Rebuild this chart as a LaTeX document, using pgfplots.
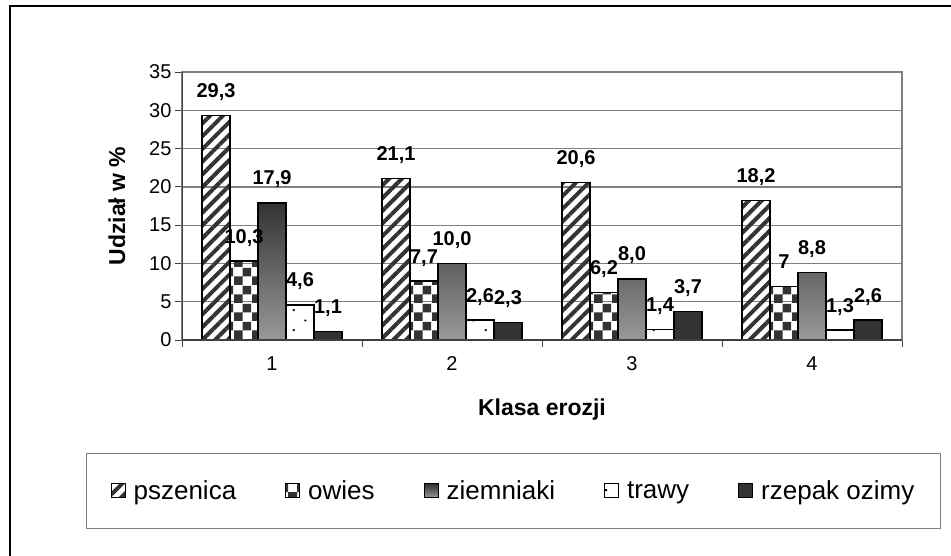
\documentclass[border=0pt]{standalone}
\usepackage{fontspec}
\setmainfont{Liberation Sans}
\usepackage{pgfplots}
\pgfplotsset{compat=1.18}
\usetikzlibrary{patterns,patterns.meta}

\definecolor{bardark}{HTML}{333333}
\definecolor{gridgray}{HTML}{808080}
\definecolor{axisdark}{HTML}{404040}

% large checkerboard for "owies"
\pgfdeclarepatternformonly{bigcheck}{\pgfpointorigin}{\pgfpoint{18pt}{18pt}}{\pgfpoint{18pt}{18pt}}{%
  \pgfpathrectangle{\pgfpointorigin}{\pgfpoint{9pt}{9pt}}%
  \pgfpathrectangle{\pgfpoint{9pt}{9pt}}{\pgfpoint{9pt}{9pt}}%
  \pgfusepath{fill}}
% sparse dots for "trawy"
\pgfdeclarepatternformonly{sparsedots}{\pgfpointorigin}{\pgfpoint{24pt}{20pt}}{\pgfpoint{24pt}{20pt}}{%
  \pgfpathrectangle{\pgfpoint{5pt}{4pt}}{\pgfpoint{2pt}{2pt}}%
  \pgfpathrectangle{\pgfpoint{17pt}{14pt}}{\pgfpoint{2pt}{2pt}}%
  \pgfusepath{fill}}

\begin{document}
\begin{tikzpicture}
\path[use as bounding box] (0,0) rectangle (951pt,-555pt);
\draw[line width=2pt] (10pt,-565pt) -- (10pt,-6pt) -- (965pt,-6pt);
\begin{axis}[
  at={(182pt,-340pt)}, anchor=south west,
  scale only axis, width=720pt, height=268pt,
  ybar=0pt, bar width=28pt,
  xmin=0.5, xmax=4.5, ymin=0, ymax=35,
  xtick={1,2,3,4},
  minor xtick={0.5,1.5,2.5,3.5,4.5},
  ytick={0,5,...,35},
  xtick pos=bottom, ytick pos=left,
  major x tick style={draw=none},
  tick align=outside, major tick length=7pt, minor tick length=7pt,
  tick style={axisdark, line width=1pt},
  ymajorgrids, grid style={gridgray, line width=1.3pt},
  axis line style={gridgray, line width=1.3pt},
  ticklabel style={font=\fontsize{20}{23}\selectfont},
  xticklabel style={yshift=-6pt},
  /pgf/number format/assume math mode=true,
  xlabel={Klasa erozji}, ylabel={Udział w \%},
  label style={font=\bfseries\fontsize{23}{27}\selectfont},
  xlabel style={at={(axis description cs:0.5,-0.2612)}, anchor=center},
  ylabel style={at={(axis description cs:-0.0903,0.5)}, anchor=center},
  nodes near coords, point meta=explicit symbolic,
  every node near coord/.append style={font=\bfseries\fontsize{20}{24}\selectfont, text=black, anchor=base, yshift=18pt},
  legend columns=5,
  legend style={at={(0.4604,-0.5634)}, anchor=center, draw=gridgray, line width=1pt,
    font=\fontsize{26}{30}\selectfont, inner xsep=24pt, inner ysep=25pt,
    /tikz/every even column/.append style={column sep=47pt},
    /tikz/every odd column/.append style={column sep=6pt}},
  legend image code/.code={\draw[#1, line width=1pt] (0pt,-7pt) rectangle (14pt,7pt);},
  every axis plot/.append style={draw=black, line width=1.5pt},
]
\addplot[pattern={Lines[angle=45,distance=9pt,line width=4pt]}, pattern color=bardark]
  coordinates {(1,29.3)[29,3] (2,21.1)[21,1] (3,20.6)[20,6] (4,18.2)[18,2]};
\addplot[pattern=bigcheck, pattern color=bardark]
  coordinates {(1,10.3)[10,3] (2,7.7)[7,7] (3,6.2)[6,2] (4,7)[7]};
\addplot[top color=bardark, bottom color=black!40]
  coordinates {(1,17.9)[17,9] (2,10.0)[10,0] (3,8.0)[8,0] (4,8.8)[8,8]};
\addplot[fill=white, postaction={pattern=sparsedots, pattern color=black}]
  coordinates {(1,4.6)[4,6] (2,2.6)[2,6] (3,1.4)[1,4] (4,1.3)[1,3]};
\addplot[fill=bardark]
  coordinates {(1,1.1)[1,1] (2,2.3)[2,3] (3,3.7)[3,7] (4,2.6)[2,6]};
\legend{pszenica, owies, ziemniaki, trawy, rzepak ozimy}
\draw[axisdark, line width=1.3pt] (rel axis cs:0,1) -- (rel axis cs:0,0) -- (rel axis cs:1,0);
\end{axis}
\end{tikzpicture}
\end{document}
